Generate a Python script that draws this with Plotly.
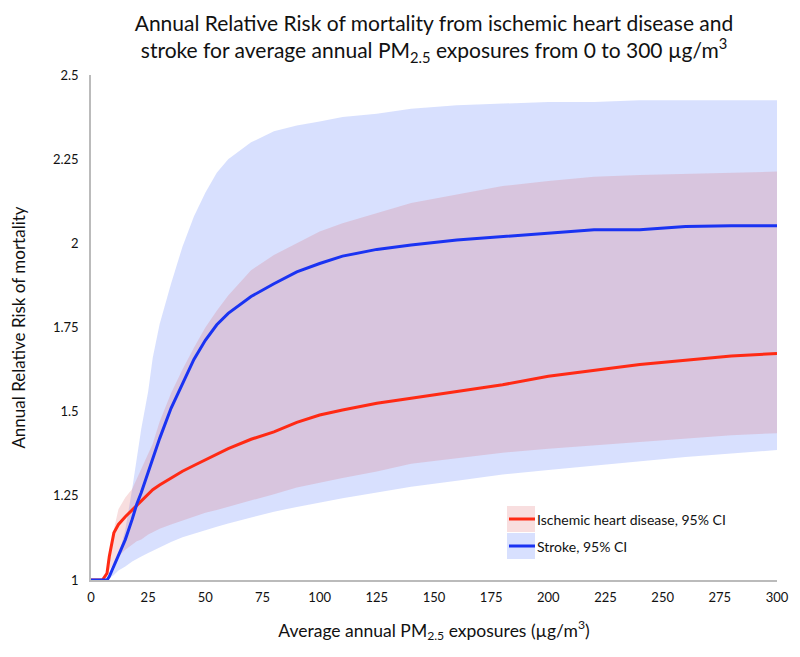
import plotly.graph_objects as go

# PM2.5 exposure (µg/m3)
pm25 = [0, 5, 7, 8, 10, 12, 15, 18, 20, 22, 25, 27, 30, 35, 40, 45, 50, 55, 60, 70, 80, 90,
        100, 110, 125, 140, 160, 180, 200, 220, 240, 260, 280, 300]

# Ischemic heart disease: central estimate and 95% CI
ihd_rr = [1.0, 1.0, 1.02, 1.07, 1.14, 1.165, 1.188, 1.208, 1.22, 1.235, 1.255, 1.268,
          1.282, 1.303, 1.323, 1.34, 1.356, 1.373, 1.39, 1.418, 1.44, 1.468, 1.49, 1.505,
          1.525, 1.54, 1.56, 1.58, 1.605, 1.622, 1.64, 1.653, 1.665, 1.673]
ihd_upper = [1.0, 1.0, 1.03, 1.07, 1.15, 1.21, 1.245, 1.27, 1.30, 1.33, 1.37, 1.405,
             1.47, 1.555, 1.625, 1.69, 1.75, 1.80, 1.845, 1.92, 1.965, 2.0, 2.035, 2.06,
             2.09, 2.12, 2.145, 2.17, 2.185, 2.198, 2.203, 2.207, 2.21, 2.213]
ihd_lower = [1.0, 1.0, 1.01, 1.03, 1.05, 1.07, 1.09, 1.105, 1.115, 1.12, 1.135, 1.142,
             1.152, 1.165, 1.177, 1.19, 1.20, 1.208, 1.217, 1.235, 1.255, 1.275, 1.29,
             1.303, 1.322, 1.345, 1.362, 1.378, 1.39, 1.40, 1.41, 1.42, 1.43, 1.436]

# Stroke: central estimate and 95% CI
stroke_rr = [1.0, 1.0, 1.0, 1.01, 1.04, 1.075, 1.12, 1.18, 1.225, 1.26, 1.32, 1.36,
             1.42, 1.51, 1.585, 1.655, 1.712, 1.758, 1.792, 1.842, 1.88, 1.915, 1.94, 1.962,
             1.982, 1.995, 2.01, 2.02, 2.032, 2.04, 2.04, 2.05, 2.052, 2.052]
stroke_upper = [1.0, 1.0, 1.0, 1.01, 1.03, 1.07, 1.15, 1.27, 1.36, 1.45, 1.56, 1.66,
                1.76, 1.88, 1.99, 2.08, 2.15, 2.21, 2.25, 2.30, 2.333, 2.35, 2.362, 2.375,
                2.385, 2.40, 2.41, 2.415, 2.42, 2.42, 2.425, 2.425, 2.425, 2.425]
stroke_lower = [1.0, 1.0, 1.0, 1.005, 1.015, 1.028, 1.04, 1.055, 1.063, 1.07, 1.08, 1.087,
                1.097, 1.113, 1.127, 1.138, 1.148, 1.158, 1.168, 1.186, 1.203, 1.217, 1.23,
                1.243, 1.26, 1.277, 1.295, 1.313, 1.327, 1.34, 1.353, 1.365, 1.376, 1.386]

x_ticks = [0, 25, 50, 75, 100, 125, 150, 175, 200, 225, 250, 275, 300]
y_ticks = [1, 1.25, 1.5, 1.75, 2, 2.25, 2.5]
y_ticktext = ["1", "1.25", "1.5", "1.75", "2", "2.25", "2.5"]

legend_labels = ["Ischemic heart disease, 95% CI", "Stroke, 95% CI"]

BLUE_FILL = "rgba(60,100,250,0.2)"
RED_FILL = "rgba(221,89,94,0.2)"
BLUE_LINE = "#1a33f2"
RED_LINE = "#ff2a14"
FONT = "Lato, 'Open Sans', sans-serif"

fig = go.Figure()

# Stroke CI band
fig.add_trace(go.Scatter(x=pm25, y=stroke_lower, mode="lines", line=dict(width=0),
                         showlegend=False, hoverinfo="skip"))
fig.add_trace(go.Scatter(x=pm25, y=stroke_upper, mode="lines", line=dict(width=0),
                         fill="tonexty", fillcolor=BLUE_FILL, showlegend=False,
                         hoverinfo="skip"))
# IHD CI band
fig.add_trace(go.Scatter(x=pm25, y=ihd_lower, mode="lines", line=dict(width=0),
                         showlegend=False, hoverinfo="skip"))
fig.add_trace(go.Scatter(x=pm25, y=ihd_upper, mode="lines", line=dict(width=0),
                         fill="tonexty", fillcolor=RED_FILL, showlegend=False,
                         hoverinfo="skip"))
# Central lines
fig.add_trace(go.Scatter(x=pm25, y=ihd_rr, mode="lines", name=legend_labels[0],
                         line=dict(color=RED_LINE, width=3), showlegend=False))
fig.add_trace(go.Scatter(x=pm25, y=stroke_rr, mode="lines", name=legend_labels[1],
                         line=dict(color=BLUE_LINE, width=3), showlegend=False))

# Page has an 8px body margin: size the figure so the plot lands where the reference has it
OFF = 8
W, H = 792, 649
ml, mr, mt, mb = 83, 23, 67, 77
pw, ph = W - ml - mr, H - mt - mb


def px2paper(xp, yp):
    # convert page pixel position to paper coordinates
    return (xp - OFF - ml) / pw, (H - mb - (yp - OFF)) / ph


shapes = []
annotations = []
legend_items = [(RED_FILL, RED_LINE, 506, 532), (BLUE_FILL, BLUE_LINE, 533, 559)]
for (fc, lc, y0, y1), label in zip(legend_items, legend_labels):
    x0p, y0p = px2paper(507, y1)
    x1p, y1p = px2paper(535, y0)
    shapes.append(dict(type="rect", xref="paper", yref="paper", x0=x0p, x1=x1p,
                       y0=y0p, y1=y1p, fillcolor=fc, line=dict(width=0), layer="above"))
    ymid = (y0p + y1p) / 2
    lx0, _ = px2paper(509, 0)
    shapes.append(dict(type="line", xref="paper", yref="paper", x0=lx0, x1=x1p,
                       y0=ymid, y1=ymid, line=dict(color=lc, width=3), layer="above"))
    annotations.append(dict(xref="paper", yref="paper", x=x1p, y=ymid, text=label,
                            showarrow=False, xanchor="left", yanchor="middle",
                            font=dict(size=14, color="#111", family=FONT), xshift=0))

fig.update_layout(
    width=W, height=H,
    margin=dict(l=ml, r=mr, t=mt, b=mb, autoexpand=False),
    paper_bgcolor="white", plot_bgcolor="white",
    font=dict(family=FONT, color="#111"),
    title=dict(
        text="Annual Relative Risk of mortality from ischemic heart disease and<br>"
             "stroke for average annual PM<sub>2.5</sub> exposures from 0 to 300 µg/m<sup>3</sup>",
        x=(434 - OFF) / W, xanchor="center", y=1 - 23 / H, yanchor="middle",
        font=dict(size=21, family=FONT, color="#111")),
    xaxis=dict(range=[0, 300], tickvals=x_ticks, ticktext=[str(v) for v in x_ticks],
               showgrid=False, zeroline=False, showline=True, linecolor="#bbbbbb",
               linewidth=1.5, ticks="", automargin=False, ticklabelstandoff=5,
               tickfont=dict(size=13, family=FONT, color="#111"),
               title=dict(text="Average annual PM<sub>2.5</sub> exposures (µg/m<sup>3</sup>)",
                          font=dict(size=17.5, family=FONT, color="#111"), standoff=20)),
    yaxis=dict(range=[1, 2.5], tickvals=y_ticks, ticktext=y_ticktext,
               showgrid=False, zeroline=False, showline=True, linecolor="#bbbbbb",
               linewidth=1.5, ticks="", automargin=False, ticklabelstandoff=8,
               tickfont=dict(size=13, family=FONT, color="#111"),
               title=dict(text="Annual Relative Risk of mortality",
                          font=dict(size=17, family=FONT, color="#111"), standoff=25)),
    shapes=shapes,
    annotations=annotations,
    showlegend=False,
)

fig.write_html("out.html")
